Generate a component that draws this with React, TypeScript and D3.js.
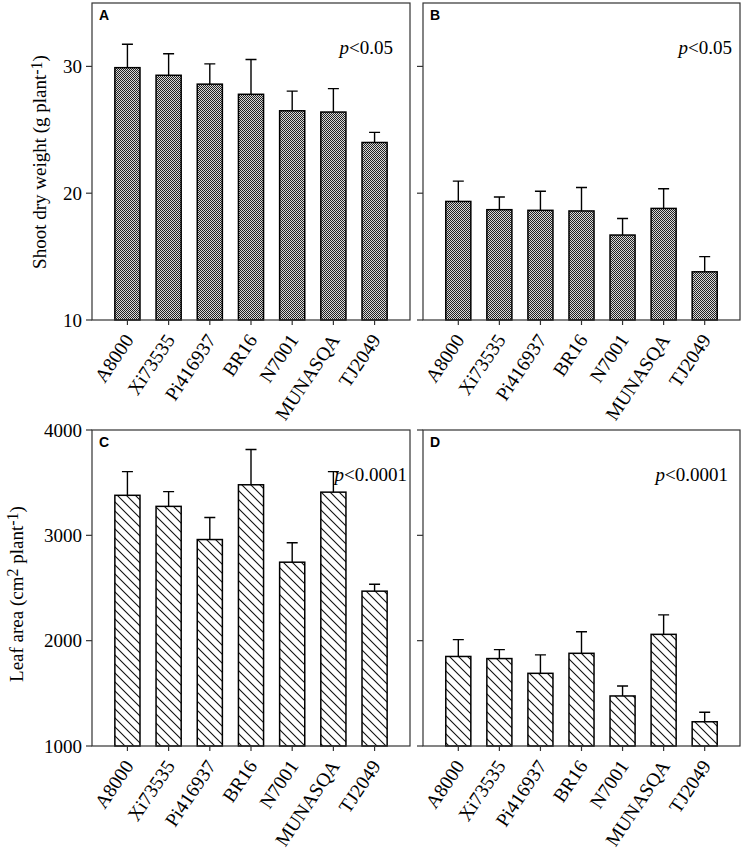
import { useEffect, useRef } from "react";
import * as d3 from "d3";

const categories = ["A8000", "Xi73535", "Pi416937", "BR16", "N7001", "MUNASQA", "TJ2049"];

const shootA = [29.9, 29.3, 28.6, 27.8, 26.5, 26.4, 24.0];
const shootAErr = [1.85, 1.7, 1.6, 2.75, 1.55, 1.85, 0.8];
const shootB = [19.35, 18.7, 18.65, 18.6, 16.7, 18.8, 13.8];
const shootBErr = [1.6, 1.0, 1.5, 1.85, 1.3, 1.55, 1.2];

const leafC = [3380, 3275, 2960, 3480, 2745, 3410, 2470];
const leafCErr = [225, 140, 210, 335, 185, 195, 65];
const leafD = [1850, 1830, 1690, 1880, 1475, 2060, 1230];
const leafDErr = [160, 85, 175, 205, 95, 185, 90];

const shootTicks = [10, 20, 30];
const leafTicks = [1000, 2000, 3000, 4000];

const serif = "'Liberation Serif', 'Times New Roman', serif";
const sans = "'Liberation Sans', Arial, sans-serif";

interface Panel {
  letter: string;
  values: number[];
  errs: number[];
  domain: [number, number];
  ticks: number[];
  showTickLabels: boolean;
  fill: string;
  pText: string;
  pRight: number;
  box: { left: number; right: number; top: number; bottom: number };
}

const panels: Panel[] = [
  { letter: "A", values: shootA, errs: shootAErr, domain: [10, 35], ticks: shootTicks, showTickLabels: true,
    fill: "url(#dots)", pText: "0.05", pRight: 393, box: { left: 92, right: 410, top: 3, bottom: 320 } },
  { letter: "B", values: shootB, errs: shootBErr, domain: [10, 35], ticks: shootTicks, showTickLabels: false,
    fill: "url(#dots)", pText: "0.05", pRight: 732, box: { left: 423, right: 740, top: 3, bottom: 320 } },
  { letter: "C", values: leafC, errs: leafCErr, domain: [1000, 4000], ticks: leafTicks, showTickLabels: true,
    fill: "url(#hatch)", pText: "0.0001", pRight: 407, box: { left: 92, right: 410, top: 430, bottom: 746 } },
  { letter: "D", values: leafD, errs: leafDErr, domain: [1000, 4000], ticks: leafTicks, showTickLabels: false,
    fill: "url(#hatch)", pText: "0.0001", pRight: 728, box: { left: 423, right: 740, top: 430, bottom: 746 } },
];

function App() {
  const svgRef = useRef<SVGSVGElement | null>(null);

  useEffect(() => {
    if (!svgRef.current) return;
    const svg = d3.select(svgRef.current);
    svg.selectAll("*").remove();

    const defs = svg.append("defs");
    // dark checker fill
    const dots = defs.append("pattern").attr("id", "dots").attr("patternUnits", "userSpaceOnUse")
      .attr("width", 2).attr("height", 2);
    dots.append("rect").attr("width", 2).attr("height", 2).attr("fill", "#d8d8d8");
    dots.append("rect").attr("width", 1).attr("height", 1).attr("fill", "#222");
    dots.append("rect").attr("x", 1).attr("y", 1).attr("width", 1).attr("height", 1).attr("fill", "#222");

    // diagonal hatch
    const hatch = defs.append("pattern").attr("id", "hatch").attr("patternUnits", "userSpaceOnUse")
      .attr("width", 9).attr("height", 9);
    hatch.append("rect").attr("width", 9).attr("height", 9).attr("fill", "#fff");
    hatch.append("path").attr("d", "M0,0L9,9M-1,8L1,10M8,-1L10,1")
      .attr("stroke", "#111").attr("stroke-width", 1.1);

    panels.forEach((p) => {
      const { left, right, top, bottom } = p.box;
      const x = d3.scaleBand<string>().domain(categories).range([left, right])
        .paddingInner(0.39).paddingOuter(0.555);
      const y = d3.scaleLinear().domain(p.domain).range([bottom, top]);
      const g = svg.append("g");

      // bars
      g.selectAll("rect.bar").data(p.values).enter().append("rect")
        .attr("class", "bar")
        .attr("x", (_, i) => x(categories[i])!)
        .attr("y", (d) => y(d))
        .attr("width", x.bandwidth())
        .attr("height", (d) => bottom - y(d))
        .attr("fill", p.fill)
        .attr("stroke", "#000")
        .attr("stroke-width", 1.5);

      // error bars (upper only)
      const cx = (i: number) => x(categories[i])! + x.bandwidth() / 2;
      g.selectAll("path.err").data(p.values).enter().append("path")
        .attr("class", "err")
        .attr("d", (d, i) => {
          const c = cx(i);
          const y0 = y(d);
          const y1 = y(d + p.errs[i]);
          return `M${c},${y0}V${y1}M${c - 5.5},${y1}H${c + 5.5}`;
        })
        .attr("fill", "none").attr("stroke", "#000").attr("stroke-width", 1.4);

      // frame
      g.append("rect").attr("x", left).attr("y", top).attr("width", right - left).attr("height", bottom - top)
        .attr("fill", "none").attr("stroke", "#333").attr("stroke-width", 1.2);

      // y ticks
      g.selectAll("line.yt").data(p.ticks).enter().append("line")
        .attr("x1", left - 6).attr("x2", left)
        .attr("y1", (d) => y(d)).attr("y2", (d) => y(d))
        .attr("stroke", "#333").attr("stroke-width", 1.2);
      if (p.showTickLabels) {
        g.selectAll("text.yl").data(p.ticks).enter().append("text")
          .attr("x", left - 10).attr("y", (d) => y(d)).attr("dy", "0.35em")
          .attr("text-anchor", "end").attr("font-family", serif).attr("font-size", 19)
          .text((d) => String(d));
      }

      // x ticks and labels
      g.selectAll("line.xt").data(categories).enter().append("line")
        .attr("x1", (_, i) => cx(i)).attr("x2", (_, i) => cx(i))
        .attr("y1", bottom).attr("y2", bottom + 5)
        .attr("stroke", "#333").attr("stroke-width", 1.2);
      g.selectAll("text.xl").data(categories).enter().append("text")
        .attr("transform", (_, i) => `translate(${cx(i) + 7},${bottom + 20}) rotate(-56)`)
        .attr("text-anchor", "end").attr("font-family", serif).attr("font-size", 19.5)
        .text((d) => d);

      // panel letter
      g.append("text").attr("x", left + 7).attr("y", top + 17)
        .attr("font-family", sans).attr("font-weight", "bold").attr("font-size", 14)
        .text(p.letter);

      // p value
      const pt = g.append("text").attr("x", p.pRight).attr("y", top + 51)
        .attr("text-anchor", "end").attr("font-family", serif).attr("font-size", 19);
      pt.append("tspan").attr("font-style", "italic").text("p");
      pt.append("tspan").text("<" + p.pText);
    });

    // y axis titles
    const t1 = svg.append("text").attr("transform", "translate(46,162) rotate(-90)")
      .attr("text-anchor", "middle").attr("font-family", serif).attr("font-size", 19);
    t1.append("tspan").text("Shoot dry weight (g plant");
    t1.append("tspan").attr("dy", -4).attr("font-size", 16).text("-1");
    t1.append("tspan").attr("dy", 4).text(")");

    const t2 = svg.append("text").attr("transform", "translate(23,594) rotate(-90)")
      .attr("text-anchor", "middle").attr("font-family", serif).attr("font-size", 19);
    t2.append("tspan").text("Leaf area (cm");
    t2.append("tspan").attr("dy", -5).attr("font-size", 16).text("2");
    t2.append("tspan").attr("dy", 5).text(" plant");
    t2.append("tspan").attr("dy", -5).attr("font-size", 16).text("-1");
    t2.append("tspan").attr("dy", 5).text(")");
  }, []);

  return (
    <svg
      ref={svgRef}
      width={743}
      height={852}
      style={{ position: "absolute", left: 0, top: 0, background: "#fff" }}
    />
  );
}

export default App;
